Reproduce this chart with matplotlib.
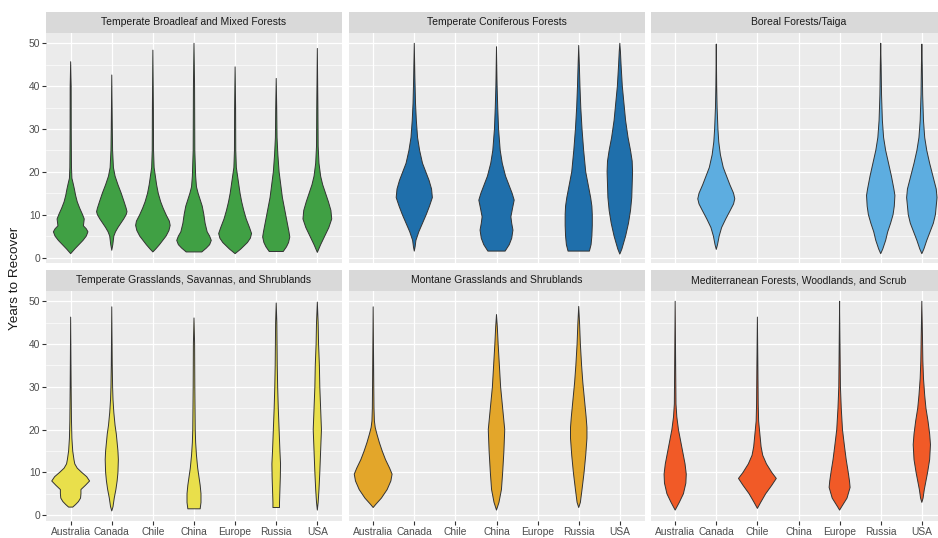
import numpy as np
import matplotlib.pyplot as plt

countries = ['Australia', 'Canada', 'Chile', 'China', 'Europe', 'Russia', 'USA']

# violin outlines: (years, half width in category units), read bottom to top
bl_australia = [(0.9, 0), (2, 0.1), (3, 0.2), (4, 0.3), (5, 0.38), (6, 0.42), (6.7, 0.38), (7.4, 0.31),
                (8.2, 0.32), (9, 0.33), (10, 0.29), (11.5, 0.22), (13, 0.16), (14.5, 0.12), (16, 0.09),
                (17.3, 0.06), (18.5, 0.03), (21, 0.02), (30, 0.014), (40, 0.012), (45.7, 0)]
bl_canada = [(1.7, 0), (3, 0.025), (5, 0.05), (6, 0.09), (7, 0.15), (8, 0.22), (9, 0.29), (10, 0.35),
             (10.7, 0.37), (11.5, 0.35), (13, 0.3), (15, 0.23), (17, 0.15), (19, 0.08), (21, 0.04),
             (25, 0.02), (30, 0.013), (42.6, 0)]
bl_chile = [(1.3, 0), (2, 0.07), (3, 0.16), (4, 0.24), (5, 0.32), (6.3, 0.39), (7.5, 0.42), (8.5, 0.4),
            (10, 0.32), (11.5, 0.25), (13, 0.19), (15, 0.13), (17, 0.09), (19, 0.06), (21, 0.03),
            (25, 0.016), (35, 0.012), (48.4, 0)]
bl_china = [(1.3, 0.19), (2.2, 0.3), (3, 0.38), (4, 0.42), (5, 0.38), (6, 0.32), (8, 0.27), (10, 0.24),
            (12, 0.2), (13.5, 0.15), (15, 0.1), (16.5, 0.06), (19, 0.04), (25, 0.02), (40, 0.014), (50, 0)]
bl_europe = [(0.9, 0), (2, 0.14), (3.5, 0.3), (4.5, 0.37), (5.6, 0.4), (7, 0.35), (9, 0.27), (11, 0.21),
             (13, 0.16), (15, 0.12), (17, 0.09), (19, 0.06), (21, 0.03), (25, 0.016), (35, 0.012), (44.5, 0)]
bl_russia = [(1.4, 0.17), (2.5, 0.25), (3.5, 0.3), (4.8, 0.33), (6, 0.31), (8, 0.27), (11, 0.21),
             (14, 0.15), (17, 0.11), (20, 0.07), (24, 0.04), (28, 0.02), (35, 0.012), (41.8, 0)]
bl_usa = [(1.2, 0), (3, 0.08), (5, 0.18), (7, 0.28), (9, 0.35), (11, 0.33), (13, 0.27), (15, 0.2),
          (17, 0.13), (19, 0.08), (22, 0.04), (26, 0.02), (35, 0.014), (48.8, 0)]

tc_canada = [(1.5, 0), (2.5, 0.02), (4, 0.04), (6, 0.11), (8, 0.2), (10, 0.29), (12, 0.37), (14, 0.44),
             (16, 0.42), (18, 0.36), (20, 0.28), (22, 0.2), (25, 0.13), (28, 0.08), (32, 0.05),
             (36, 0.03), (42, 0.015), (50, 0)]
tc_china = [(1.5, 0.21), (3, 0.31), (4.5, 0.37), (6.4, 0.4), (8, 0.37), (9.5, 0.35), (11.5, 0.39),
            (13.4, 0.43), (15, 0.38), (17, 0.3), (19, 0.22), (22, 0.14), (25, 0.09), (30, 0.05),
            (35, 0.03), (40, 0.015), (49.2, 0)]
tc_russia = [(1.5, 0.26), (3, 0.3), (5, 0.32), (7.5, 0.33), (10, 0.33), (12, 0.32), (14, 0.29),
             (16, 0.25), (20, 0.17), (25, 0.12), (30, 0.08), (35, 0.05), (40, 0.03), (45, 0.015), (49.5, 0)]
tc_usa = [(0.8, 0), (2, 0.05), (5, 0.14), (8, 0.21), (11, 0.26), (14, 0.29), (17, 0.3), (20, 0.31),
          (22.5, 0.3), (25, 0.26), (28, 0.2), (32, 0.14), (36, 0.1), (40, 0.06), (45, 0.03),
          (48, 0.015), (50, 0)]

bf_canada = [(1.9, 0), (3, 0.03), (5, 0.07), (7, 0.13), (9, 0.23), (11, 0.34), (12.5, 0.42),
             (13.7, 0.45), (15, 0.42), (17, 0.33), (19, 0.25), (21, 0.17), (24, 0.1), (27, 0.06),
             (30, 0.04), (35, 0.02), (40, 0.01), (49.8, 0)]
bf_russia = [(0.9, 0), (2, 0.05), (4, 0.12), (6, 0.17), (8, 0.24), (10, 0.3), (12, 0.33), (14.5, 0.345),
             (16, 0.32), (19, 0.26), (22, 0.19), (25, 0.12), (28, 0.07), (32, 0.04), (38, 0.02),
             (45, 0.01), (50, 0)]
bf_usa = [(0.9, 0), (2, 0.05), (4, 0.12), (6, 0.2), (8, 0.28), (10, 0.33), (12, 0.35), (14, 0.37),
          (16, 0.35), (19, 0.27), (22, 0.19), (25, 0.12), (28, 0.07), (32, 0.04), (38, 0.02),
          (45, 0.01), (49.8, 0)]

tg_australia = [(1.9, 0.05), (2.5, 0.12), (3.2, 0.19), (4, 0.24), (5, 0.25), (6, 0.25), (7, 0.36),
                (8, 0.46), (9, 0.39), (10, 0.27), (11, 0.16), (12, 0.1), (13, 0.08), (15, 0.05),
                (18, 0.03), (22, 0.02), (30, 0.012), (46.3, 0)]
tg_canada = [(1, 0), (2, 0.03), (4, 0.06), (6, 0.1), (8, 0.13), (10, 0.15), (13, 0.16), (15, 0.15),
             (17, 0.13), (19, 0.11), (21, 0.08), (24, 0.05), (27, 0.03), (30, 0.02), (35, 0.012), (48.7, 0)]
tg_china = [(1.5, 0.15), (3, 0.17), (5, 0.17), (7, 0.15), (9, 0.12), (11, 0.09), (14, 0.06), (17, 0.04),
            (20, 0.03), (30, 0.02), (40, 0.015), (46.1, 0)]
tg_russia = [(1.8, 0.08), (3, 0.08), (6, 0.09), (9, 0.1), (12, 0.105), (15, 0.09), (20, 0.07),
             (25, 0.05), (30, 0.035), (35, 0.025), (40, 0.02), (45, 0.015), (49.6, 0)]
tg_usa = [(1.2, 0), (3, 0.02), (6, 0.04), (10, 0.06), (15, 0.08), (20, 0.1), (25, 0.08), (30, 0.06),
          (35, 0.05), (40, 0.03), (45, 0.02), (49.8, 0)]

mg_australia = [(1.8, 0), (2.5, 0.06), (4, 0.2), (6, 0.34), (8, 0.43), (9.6, 0.46), (11, 0.4), (13, 0.3),
                (15, 0.22), (17, 0.15), (19, 0.09), (20.5, 0.05), (22, 0.03), (25, 0.02), (30, 0.015),
                (48.7, 0)]
mg_china = [(1.2, 0), (3, 0.06), (6, 0.12), (10, 0.15), (15, 0.18), (20, 0.2), (22, 0.18), (26, 0.14),
            (30, 0.1), (35, 0.07), (40, 0.04), (44, 0.02), (46.9, 0)]
mg_russia = [(1.8, 0), (3, 0.04), (6, 0.08), (10, 0.13), (14, 0.17), (18, 0.2), (20.5, 0.2), (23, 0.18),
             (27, 0.14), (31, 0.1), (35, 0.07), (40, 0.04), (45, 0.02), (48.8, 0)]

md_australia = [(1.2, 0), (3, 0.1), (5, 0.2), (7.5, 0.26), (9.6, 0.27), (12, 0.24), (15, 0.18),
                (18, 0.12), (20, 0.08), (23, 0.04), (26, 0.02), (35, 0.012), (50, 0)]
md_chile = [(1.6, 0), (3, 0.08), (5, 0.2), (7, 0.35), (8.6, 0.46), (10, 0.35), (12, 0.22), (14, 0.13),
            (16, 0.09), (19, 0.06), (22, 0.03), (26, 0.02), (35, 0.012), (46.3, 0)]
md_europe = [(1.2, 0), (2, 0.05), (4, 0.18), (6.5, 0.255), (8, 0.24), (10, 0.21), (13, 0.16), (16, 0.12),
             (20, 0.07), (25, 0.04), (30, 0.02), (40, 0.01), (50, 0)]
md_usa = [(3, 0), (4, 0.03), (6, 0.06), (8, 0.1), (10, 0.14), (13, 0.19), (16.5, 0.21), (19, 0.19),
          (22, 0.15), (25, 0.1), (28, 0.07), (32, 0.04), (36, 0.025), (42, 0.015), (50, 0)]

panels = [
    ('Temperate Broadleaf and Mixed Forests', '#40A044',
     {'Australia': bl_australia, 'Canada': bl_canada, 'Chile': bl_chile, 'China': bl_china,
      'Europe': bl_europe, 'Russia': bl_russia, 'USA': bl_usa}),
    ('Temperate Coniferous Forests', '#1F6FAB',
     {'Canada': tc_canada, 'China': tc_china, 'Russia': tc_russia, 'USA': tc_usa}),
    ('Boreal Forests/Taiga', '#5DADE0',
     {'Canada': bf_canada, 'Russia': bf_russia, 'USA': bf_usa}),
    ('Temperate Grasslands, Savannas, and Shrublands', '#E9DF4B',
     {'Australia': tg_australia, 'Canada': tg_canada, 'China': tg_china, 'Russia': tg_russia, 'USA': tg_usa}),
    ('Montane Grasslands and Shrublands', '#E3A62A',
     {'Australia': mg_australia, 'China': mg_china, 'Russia': mg_russia}),
    ('Mediterranean Forests, Woodlands, and Scrub', '#F15A27',
     {'Australia': md_australia, 'Chile': md_chile, 'Europe': md_europe, 'USA': md_usa}),
]

plt.rcParams['font.family'] = ['Liberation Sans', 'DejaVu Sans']

W, H = 938, 538
fig = plt.figure(figsize=(W / 100, H / 100), dpi=100)

lefts = [46, 348.5, 650.5]
panel_w = 296
rows = [(33, 263.3), (291, 521)]
strip_h = 21.5

for i, (title, colour, profiles) in enumerate(panels):
    r, c = divmod(i, 3)
    top, bot = rows[r]
    ax = fig.add_axes([lefts[c] / W, 1 - bot / H, panel_w / W, (bot - top) / H])
    ax.set_facecolor('#EBEBEB')
    ax.set_xlim(0.4, 7.6)
    ax.set_ylim(-1.35, 52.4)
    ax.set_xticks(range(1, 8))
    ax.set_xticklabels(countries)
    ax.set_yticks(range(0, 51, 10))
    ax.set_yticks(range(5, 51, 10), minor=True)
    ax.grid(which='major', color='white', lw=0.9)
    ax.grid(which='minor', axis='y', color='white', lw=0.45)
    ax.set_axisbelow(True)
    for s in ax.spines.values():
        s.set_visible(False)
    ax.tick_params(which='minor', length=0)
    ax.tick_params(which='major', length=2.6, width=0.8, color='#333333',
                   labelsize=7.4, labelcolor='#4D4D4D', pad=1.5)
    if c > 0:
        ax.tick_params(axis='y', left=False, labelleft=False)
    if r == 0:
        ax.tick_params(axis='x', bottom=False, labelbottom=False)

    for name, prof in profiles.items():
        x0 = countries.index(name) + 1
        y = np.array([p[0] for p in prof])
        w = np.array([p[1] for p in prof])
        xs = np.concatenate([x0 - w, (x0 + w)[::-1]])
        ys = np.concatenate([y, y[::-1]])
        ax.fill(xs, ys, facecolor=colour, edgecolor='#333333', lw=0.7, joinstyle='round')

    # facet strip above the panel
    sax = fig.add_axes([lefts[c] / W, 1 - top / H, panel_w / W, strip_h / H])
    sax.set_facecolor('#D9D9D9')
    sax.set_xticks([])
    sax.set_yticks([])
    for s in sax.spines.values():
        s.set_visible(False)
    sax.text(0.5, 0.5, title, ha='center', va='center', fontsize=7.5, color='#1A1A1A',
             transform=sax.transAxes)

fig.text(15 / W, 1 - 278 / H, 'Years to Recover', rotation=90, ha='center', va='center',
         fontsize=9.7, color='#1A1A1A')

fig.savefig('out.png', dpi=100, facecolor='white')
